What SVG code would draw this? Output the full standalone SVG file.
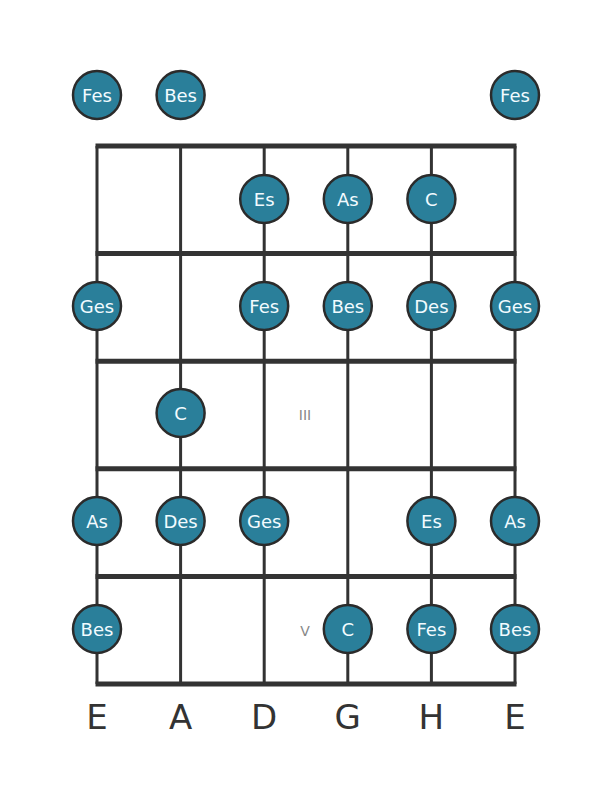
<svg xmlns="http://www.w3.org/2000/svg" width="611" height="801" viewBox="0 0 611 801">
<style>
.str{stroke:#333;stroke-width:3;}
.fret{stroke:#333;stroke-width:5;}
.n circle{fill:#2a7f9a;stroke:#2b2b2b;stroke-width:2.5;}
.n text{fill:#f2fbff;font-family:"DejaVu Sans",sans-serif;font-size:18px;text-anchor:middle;dominant-baseline:central;}
.lbl{fill:#333;font-family:"DejaVu Sans",sans-serif;font-size:34px;text-anchor:middle;}
.pos{fill:#888;font-family:"DejaVu Sans",sans-serif;font-size:14px;text-anchor:middle;dominant-baseline:central;}
</style>
<rect width="611" height="801" fill="#fff"/>
<g id="connectors">
<line class="str" x1="97" y1="146" x2="97" y2="684"/>
<line class="str" x1="180.6" y1="146" x2="180.6" y2="684"/>
<line class="str" x1="264.2" y1="146" x2="264.2" y2="684"/>
<line class="str" x1="347.8" y1="146" x2="347.8" y2="684"/>
<line class="str" x1="431.4" y1="146" x2="431.4" y2="684"/>
<line class="str" x1="515" y1="146" x2="515" y2="684"/>
<line class="fret" x1="95.5" y1="146" x2="516.5" y2="146"/>
<line class="fret" x1="95.5" y1="253.6" x2="516.5" y2="253.6"/>
<line class="fret" x1="95.5" y1="361.2" x2="516.5" y2="361.2"/>
<line class="fret" x1="95.5" y1="468.8" x2="516.5" y2="468.8"/>
<line class="fret" x1="95.5" y1="576.4" x2="516.5" y2="576.4"/>
<line class="fret" x1="95.5" y1="684" x2="516.5" y2="684"/>
</g>
<text class="pos" x="305" y="415">III</text>
<text class="pos" x="305" y="631">V</text>
<g id="n1" class="n"><circle cx="97" cy="95" r="24"/><text x="97" y="95">Fes</text></g>
<g id="n2" class="n"><circle cx="180.6" cy="95" r="24"/><text x="180.6" y="95">Bes</text></g>
<g id="n3" class="n"><circle cx="515" cy="95" r="24"/><text x="515" y="95">Fes</text></g>
<g id="n4" class="n"><circle cx="264.2" cy="199" r="24"/><text x="264.2" y="199">Es</text></g>
<g id="n5" class="n"><circle cx="347.8" cy="199" r="24"/><text x="347.8" y="199">As</text></g>
<g id="n6" class="n"><circle cx="431.4" cy="199" r="24"/><text x="431.4" y="199">C</text></g>
<g id="n7" class="n"><circle cx="97" cy="306" r="24"/><text x="97" y="306">Ges</text></g>
<g id="n8" class="n"><circle cx="264.2" cy="306" r="24"/><text x="264.2" y="306">Fes</text></g>
<g id="n9" class="n"><circle cx="347.8" cy="306" r="24"/><text x="347.8" y="306">Bes</text></g>
<g id="n10" class="n"><circle cx="431.4" cy="306" r="24"/><text x="431.4" y="306">Des</text></g>
<g id="n11" class="n"><circle cx="515" cy="306" r="24"/><text x="515" y="306">Ges</text></g>
<g id="n12" class="n"><circle cx="180.6" cy="413" r="24"/><text x="180.6" y="413">C</text></g>
<g id="n13" class="n"><circle cx="97" cy="521" r="24"/><text x="97" y="521">As</text></g>
<g id="n14" class="n"><circle cx="180.6" cy="521" r="24"/><text x="180.6" y="521">Des</text></g>
<g id="n15" class="n"><circle cx="264.2" cy="521" r="24"/><text x="264.2" y="521">Ges</text></g>
<g id="n16" class="n"><circle cx="431.4" cy="521" r="24"/><text x="431.4" y="521">Es</text></g>
<g id="n17" class="n"><circle cx="515" cy="521" r="24"/><text x="515" y="521">As</text></g>
<g id="n18" class="n"><circle cx="97" cy="629" r="24"/><text x="97" y="629">Bes</text></g>
<g id="n19" class="n"><circle cx="347.8" cy="629" r="24"/><text x="347.8" y="629">C</text></g>
<g id="n20" class="n"><circle cx="431.4" cy="629" r="24"/><text x="431.4" y="629">Fes</text></g>
<g id="n21" class="n"><circle cx="515" cy="629" r="24"/><text x="515" y="629">Bes</text></g>
<g id="labels">
<text class="lbl" x="97" y="729">E</text>
<text class="lbl" x="180.6" y="729">A</text>
<text class="lbl" x="264.2" y="729">D</text>
<text class="lbl" x="347.8" y="729">G</text>
<text class="lbl" x="431.4" y="729">H</text>
<text class="lbl" x="515" y="729">E</text>
</g>
</svg>
